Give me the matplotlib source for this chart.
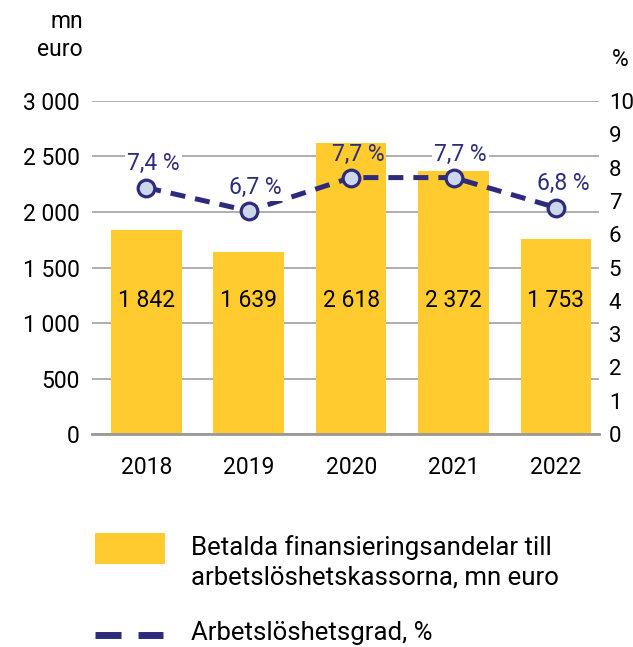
import matplotlib
matplotlib.use("Agg")
import matplotlib.pyplot as plt
from matplotlib.lines import Line2D
from matplotlib.patches import Rectangle

plt.rcParams['font.family'] = ['Roboto', 'DejaVu Sans']

years = ["2018", "2019", "2020", "2021", "2022"]
funding = [1842, 1639, 2618, 2372, 1753]
funding_labels = ["1 842", "1 639", "2 618", "2 372", "1 753"]
unemployment = [7.4, 6.7, 7.7, 7.7, 6.8]
unemp_labels = ["7,4 %", "6,7 %", "7,7 %", "7,7 %", "6,8 %"]
left_ticks = [0, 500, 1000, 1500, 2000, 2500, 3000]
left_ticklabels = ["0", "500", "1 000", "1 500", "2 000", "2 500", "3 000"]
right_ticks = list(range(0, 11))

YELLOW = "#FFCB2F"
NAVY = "#2E2B7C"
MARKER_FILL = "#CDD7EC"
GRID = "#A8A8A8"

fig = plt.figure(figsize=(6.33, 6.47), dpi=100)
ax = fig.add_axes([0.1453, 0.3292, 0.801, 0.5147])
x = list(range(len(years)))

ax.set_axisbelow(True)
ax.yaxis.grid(True, color=GRID, linewidth=1.3)
ax.bar(x, funding, width=0.69, color=YELLOW, zorder=2)
ax.set_ylim(0, 3000)
ax.set_xlim(-0.53, 4.42)
ax.set_yticks(left_ticks)
ax.set_yticklabels(left_ticklabels)
ax.set_xticks(x)
ax.set_xticklabels(years)
for s in ["top", "right", "left"]:
    ax.spines[s].set_visible(False)
ax.spines["bottom"].set_color("#999999")
ax.spines["bottom"].set_linewidth(2)
ax.tick_params(axis="both", length=0, labelsize=16.5, colors="black")
ax.tick_params(axis="y", pad=9)
ax.tick_params(axis="x", pad=16)

for xi, lab in zip(x, funding_labels):
    ax.text(xi, 1200, lab, ha="center", va="center", fontsize=16.5, color="black", zorder=5)

ax2 = ax.twinx()
ax2.set_ylim(0, 10)
ax2.set_yticks(right_ticks)
for s in ["top", "right", "left", "bottom"]:
    ax2.spines[s].set_visible(False)
ax2.tick_params(axis="y", length=0, labelsize=16, pad=7)
ax2.plot(x, unemployment, color=NAVY, linewidth=3.6, dashes=(3.0, 2.0),
         dash_capstyle="butt",
         marker="o", markersize=12, markerfacecolor=MARKER_FILL,
         markeredgecolor=NAVY, markeredgewidth=2.3, zorder=4)

for xi, v, lab, f in zip(x, unemployment, unemp_labels, funding):
    inside = (v + 0.85) * 300 < f
    kw = {}
    if not inside:
        kw["bbox"] = dict(facecolor="white", edgecolor="none", pad=1.5)
    ax2.annotate(lab, (xi, v), xytext=(5, 17), textcoords="offset points",
                 ha="center", va="center", fontsize=16.5, color=NAVY,
                 zorder=6, **kw)

fig.text(83 / 633, 1 - 22 / 647, "mn", ha="right", va="center", fontsize=16.5)
fig.text(83 / 633, 1 - 50 / 647, "euro", ha="right", va="center", fontsize=16.5)
fig.text(620 / 633, 1 - 60 / 647, "%", ha="center", va="center", fontsize=16.5)

# legend
fig.patches.append(Rectangle((95 / 633, 1 - 564 / 647), 70 / 633, 31 / 647,
                             transform=fig.transFigure, facecolor=YELLOW,
                             edgecolor="none"))
fig.text(191 / 633, 1 - 548 / 647, "Betalda finansieringsandelar till",
         ha="left", va="center", fontsize=18.5)
fig.text(191 / 633, 1 - 577 / 647, "arbetslöshetskassorna, mn euro",
         ha="left", va="center", fontsize=18.5)
fig.lines.append(Line2D([95 / 633, 163 / 633], [1 - 635 / 647, 1 - 635 / 647],
                        transform=fig.transFigure, color=NAVY, linewidth=5,
                        dashes=(3.75, 2.45), dash_capstyle="butt"))
fig.text(191 / 633, 1 - 633 / 647, "Arbetslöshetsgrad, %",
         ha="left", va="center", fontsize=18.5)

fig.savefig("out.png", dpi=100)
